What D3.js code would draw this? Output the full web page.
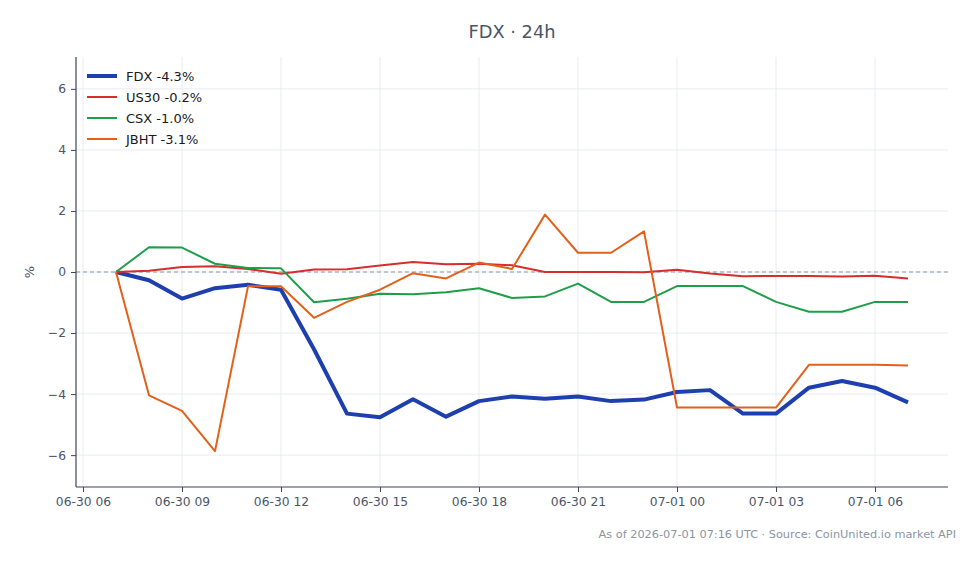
<!DOCTYPE html>
<html><head><meta charset="utf-8">
<script src="https://cdn.jsdelivr.net/npm/d3@7"></script>
<style>
html,body{margin:0;padding:0;background:#fff;}
svg{display:block;font-family:"DejaVu Sans",sans-serif;}
</style></head>
<body>
<svg id="chart" width="980" height="564"></svg>
<script>
// hourly timestamps 2026-06-30 07:00 → 2026-07-01 07:00 (UTC)
const times = ["2026-06-30T07:00Z","2026-06-30T08:00Z","2026-06-30T09:00Z","2026-06-30T10:00Z","2026-06-30T11:00Z","2026-06-30T12:00Z","2026-06-30T13:00Z","2026-06-30T14:00Z","2026-06-30T15:00Z","2026-06-30T16:00Z","2026-06-30T17:00Z","2026-06-30T18:00Z","2026-06-30T19:00Z","2026-06-30T20:00Z","2026-06-30T21:00Z","2026-06-30T22:00Z","2026-06-30T23:00Z","2026-07-01T00:00Z","2026-07-01T01:00Z","2026-07-01T02:00Z","2026-07-01T03:00Z","2026-07-01T04:00Z","2026-07-01T05:00Z","2026-07-01T06:00Z","2026-07-01T07:00Z"];
const fdx  = [0,-0.27,-0.87,-0.53,-0.42,-0.58,-2.53,-4.64,-4.76,-4.17,-4.74,-4.23,-4.08,-4.15,-4.08,-4.23,-4.18,-3.93,-3.87,-4.64,-4.64,-3.79,-3.57,-3.79,-4.27];
const us30 = [0,0.04,0.16,0.19,0.10,-0.06,0.08,0.09,0.21,0.33,0.25,0.27,0.22,0,0,0,-0.01,0.07,-0.05,-0.14,-0.13,-0.13,-0.15,-0.12,-0.21];
const csx  = [0,0.81,0.80,0.27,0.13,0.12,-0.99,-0.88,-0.71,-0.73,-0.66,-0.53,-0.85,-0.80,-0.38,-0.98,-0.98,-0.46,-0.46,-0.46,-0.98,-1.30,-1.30,-0.98,-0.98];
const jbht = [0,-4.04,-4.55,-5.87,-0.47,-0.47,-1.50,-0.98,-0.58,-0.04,-0.21,0.31,0.10,1.88,0.63,0.63,1.33,-4.44,-4.44,-4.44,-4.44,-3.04,-3.04,-3.04,-3.06];
const seriesNames = ["FDX","US30","CSX","JBHT"];
const seriesLabels = ["FDX -4.3%","US30 -0.2%","CSX -1.0%","JBHT -3.1%"];
const yTicks = [-6,-4,-2,0,2,4,6];
const xTicks = ["2026-06-30T06:00Z","2026-06-30T09:00Z","2026-06-30T12:00Z","2026-06-30T15:00Z","2026-06-30T18:00Z","2026-06-30T21:00Z","2026-07-01T00:00Z","2026-07-01T03:00Z","2026-07-01T06:00Z"];
const titleText = "FDX · 24h";
const footerText = "As of 2026-07-01 07:16 UTC · Source: CoinUnited.io market API";

const colors = ["#1e40af","#d62d2d","#1f9e4a","#e2601a"];
const widths = [4,2,2,2];
const allSeries = [fdx, us30, csx, jbht];

const svg = d3.select("#chart");
const L = 76, R = 948, T = 57, B = 487, pad = 40;
const dates = times.map(t => new Date(t));
const x = d3.scaleUtc().domain(d3.extent(dates)).range([L + pad, R - pad]);
const maxAbs = d3.max(allSeries.flat(), v => Math.abs(v)) * 1.2;
const y = d3.scaleLinear().domain([-maxAbs, maxAbs]).range([B, T]);

// grid
const g = svg.append("g");
g.selectAll(".gx").data(xTicks.map(t => new Date(t))).enter().append("line")
  .attr("x1", d => x(d)).attr("x2", d => x(d)).attr("y1", T).attr("y2", B)
  .attr("stroke", "#e8ebf0").attr("stroke-width", 1);
g.selectAll(".gy").data(yTicks).enter().append("line")
  .attr("x1", L).attr("x2", R).attr("y1", d => y(d)).attr("y2", d => y(d))
  .attr("stroke", "#e8ebf0").attr("stroke-width", 1);

// zero line
svg.append("line").attr("x1", L).attr("x2", R).attr("y1", y(0)).attr("y2", y(0))
  .attr("stroke", "#8a97ad").attr("stroke-width", 1).attr("stroke-dasharray", "4,3");

// axes
const fmt = d3.utcFormat("%m-%d %H");
const xAxis = d3.axisBottom(x).tickValues(xTicks.map(t => new Date(t))).tickFormat(fmt).tickSize(5).tickPadding(5).tickSizeOuter(0);
const yAxis = d3.axisLeft(y).tickValues(yTicks).tickFormat(d => d < 0 ? "\u2212" + Math.abs(d) : String(d)).tickSize(5).tickPadding(5).tickSizeOuter(0);
const ax = svg.append("g").attr("transform", `translate(0,${B})`).call(xAxis);
const ay = svg.append("g").attr("transform", `translate(${L},0)`).call(yAxis);
[ax, ay].forEach(a => {
  a.select(".domain").attr("stroke", "#3d4756").attr("stroke-width", 1.2);
  a.selectAll(".tick line").attr("stroke", "#3d4756");
  a.selectAll(".tick text").attr("fill", "#4a5568").attr("font-size", 12.3).attr("font-family", "DejaVu Sans");
});
ax.select(".domain").attr("d", `M${L},0H${R}`);
ay.select(".domain").attr("d", `M0,${B}V${T}`);

// lines
const line = d3.line().x((d, i) => x(dates[i])).y(d => y(d));
allSeries.forEach((s, k) => {
  svg.append("path").datum(s).attr("d", line).attr("fill", "none")
    .attr("stroke", colors[k]).attr("stroke-width", widths[k])
    .attr("stroke-linejoin", "round").attr("stroke-linecap", "butt");
});

// y label
svg.append("text").attr("transform", `translate(34,${(T + B) / 2}) rotate(-90)`)
  .attr("text-anchor", "middle").attr("fill", "#4a5568").attr("font-size", 13).text("%");

// title
svg.append("text").attr("x", 512).attr("y", 38).attr("text-anchor", "middle")
  .attr("fill", "#4a5568").attr("font-size", 17.8).text(titleText);

// legend
const lg = svg.append("g");
seriesLabels.forEach((lab, k) => {
  const yy = 76 + k * 21;
  lg.append("line").attr("x1", 87).attr("x2", 117).attr("y1", yy).attr("y2", yy)
    .attr("stroke", colors[k]).attr("stroke-width", widths[k]);
  lg.append("text").attr("x", 126).attr("y", yy).attr("dy", "0.35em")
    .attr("fill", "#1a1a1a").attr("font-size", 13).text(lab);
});

// footer
svg.append("text").attr("x", 956).attr("y", 538).attr("text-anchor", "end")
  .attr("fill", "#8a94a3").attr("font-size", 11.3).text(footerText);
</script>
</body></html>
